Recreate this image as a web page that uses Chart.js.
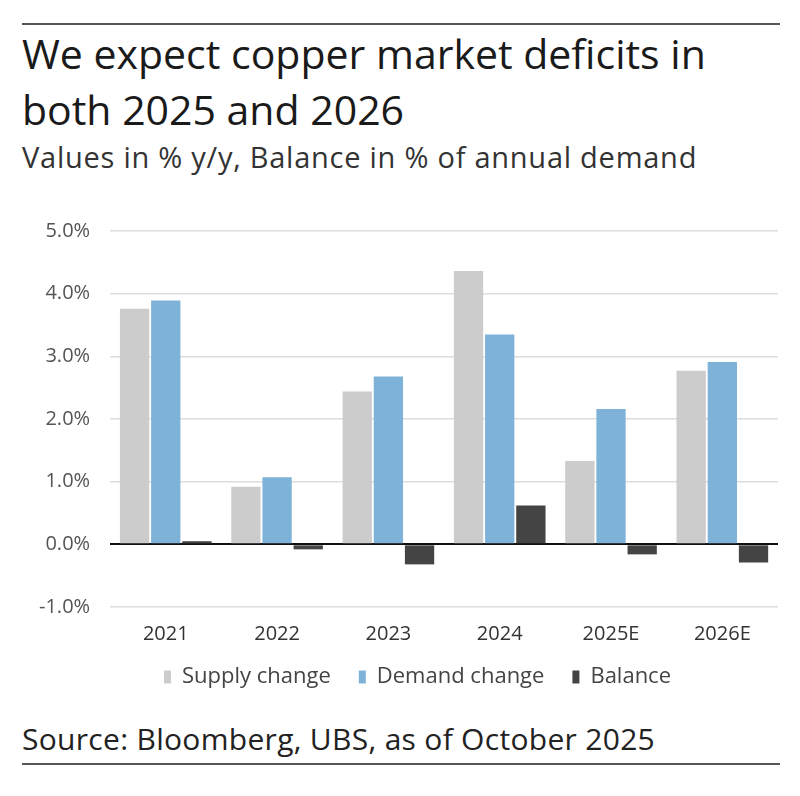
<!DOCTYPE html>
<html>
<head>
<meta charset="utf-8">
<script src="https://cdn.jsdelivr.net/npm/chart.js@4/dist/chart.umd.min.js"></script>
<style>
  html, body { margin: 0; padding: 0; background: #fff; }
  body { width: 800px; height: 796px; position: relative; overflow: hidden;
         font-family: "Open Sans", "Noto Sans", sans-serif; color: #222; }
  .rule { position: absolute; left: 22px; width: 758px; height: 2px; background: #555; }
  #title { position: absolute; left: 22px; top: 25px; font-size: 41px; line-height: 56px;
           color: #1a1a1a; font-weight: 400; }
  #subtitle { position: absolute; left: 22px; top: 137px; font-size: 29px; color: #333;
              letter-spacing: 0.75px; }
  #source { position: absolute; left: 22px; top: 718px; font-size: 30px; color: #222;
            letter-spacing: 0.3px; }
  #wrap { position: absolute; left: 0; top: 199px; width: 800px; height: 514px; }
</style>
</head>
<body>
<div class="rule" style="top:23px"></div>
<div id="title">We expect copper market deficits in<br>both 2025 and 2026</div>
<div id="subtitle">Values in % y/y, Balance in % of annual demand</div>
<div id="wrap"><canvas id="chart"></canvas></div>
<div id="source">Source: Bloomberg, UBS, as of October 2025</div>
<div class="rule" style="top:763px"></div>

<script>
// --- data ---
var years = ['2021', '2022', '2023', '2024', '2025E', '2026E'];
var supplyChange = [3.76, 0.92, 2.44, 4.36, 1.33, 2.77];
var demandChange = [3.89, 1.07, 2.68, 3.35, 2.16, 2.91];
var balance = [0.05, -0.08, -0.32, 0.62, -0.16, -0.29];

var FONT = '"Open Sans", "Noto Sans", sans-serif';

function barSet(label, values, color) {
  return {
    label: label,
    data: values,
    backgroundColor: color,
    borderWidth: 0,
    barPercentage: 0.94,
    categoryPercentage: 0.84
  };
}

// nudge the legend a bit up and right, like the original layout
var legendShift = {
  id: 'legendShift',
  afterLayout: function(chart) {
    var lg = chart.legend;
    if (!lg) return;
    lg.top -= 15; lg.bottom -= 15;
    lg.left += 19; lg.right += 19;
  }
};

new Chart(document.getElementById('chart').getContext('2d'), {
  type: 'bar',
  data: {
    labels: years,
    datasets: [
      barSet('Supply change', supplyChange, '#cccccc'),
      barSet('Demand change', demandChange, '#7fb2d9'),
      barSet('Balance', balance, '#444444')
    ]
  },
  plugins: [legendShift],
  options: {
    responsive: true,
    maintainAspectRatio: false,
    animation: false,
    layout: { padding: { left: 19, right: 22, top: 0, bottom: 0 } },
    plugins: {
      tooltip: { enabled: false },
      legend: {
        position: 'bottom',
        labels: {
          boxWidth: 7,
          boxHeight: 13,
          padding: 28,
          color: '#444',
          font: { family: FONT, size: 22 }
        }
      }
    },
    scales: {
      x: {
        grid: { display: false },
        border: { display: false },
        ticks: { color: '#333', font: { family: FONT, size: 20 }, padding: 7 }
      },
      y: {
        min: -1,
        max: 5,
        border: { display: false },
        grid: {
          drawTicks: false,
          color: function(ctx) { return ctx.tick && ctx.tick.value === 0 ? '#111' : '#dddddd'; },
          lineWidth: function(ctx) { return ctx.tick && ctx.tick.value === 0 ? 2 : 1.5; }
        },
        ticks: {
          stepSize: 1,
          padding: 20,
          color: '#555',
          font: { family: FONT, size: 20 },
          callback: function(v) { return v.toFixed(1) + '%'; }
        }
      }
    }
  }
});
</script>
</body>
</html>
